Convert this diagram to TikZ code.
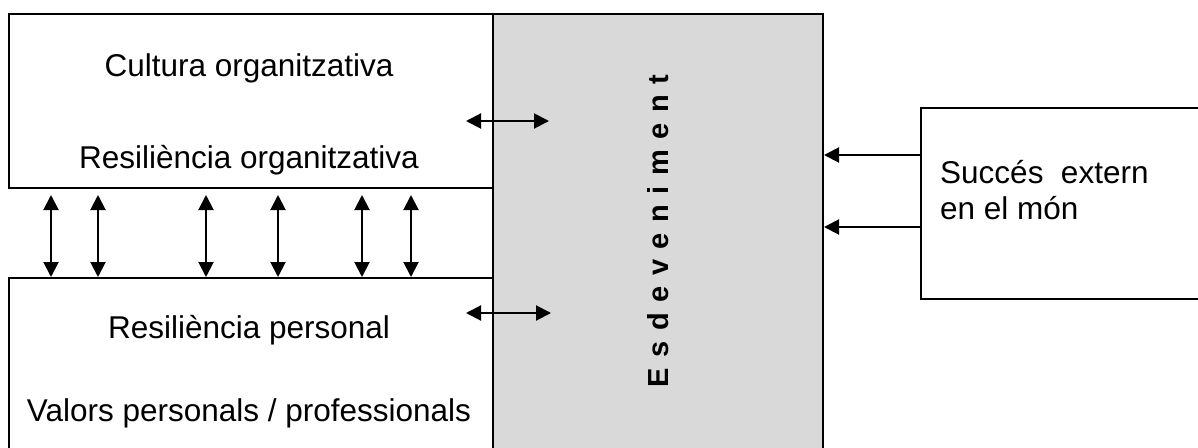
\documentclass[tikz,border=0pt]{standalone}
\usepackage{fontspec}
\setmainfont{Liberation Sans}
\usetikzlibrary{arrows.meta,calc}
\definecolor{evgrey}{HTML}{D9D9D9}
\newcommand{\lsp}{\hspace{10.5pt}}
\begin{document}
\begin{tikzpicture}[x=1pt,y=-1pt,
  box/.style={draw=black,line width=2pt,inner sep=0pt},
  lbl/.style={font=\fontsize{31.5}{36}\selectfont,inner sep=0pt,anchor=base},
  tip/.tip={Triangle[width=15pt,length=15pt]},
  dbl/.style={line width=2pt,tip-tip},
  sgl/.style={line width=2pt,-tip}]
\clip (0,0) rectangle (1198,447);
\fill[white] (0,0) rectangle (1198,447);
% boxes
\node[box,fill=evgrey,minimum width=330pt,minimum height=460pt,anchor=north west] (ev) at (492,13) {};
\node[box,fill=white,minimum width=484pt,minimum height=174pt,anchor=north west] (org) at (8,13) {};
\node[box,fill=white,minimum width=484pt,minimum height=200pt,anchor=north west] (pers) at (8,277) {};
\node[box,fill=white,minimum width=300pt,minimum height=191pt,anchor=north west] (ext) at (920,107) {};
% labels
\node[lbl] (t1) at (249,76) {Cultura organitzativa};
\node[lbl] (t2) at (249,168) {Resiliència organitzativa};
\node[lbl] (t3) at (249,338) {Resiliència personal};
\node[lbl] (t4) at (249,421) {Valors personals / professionals};
\node[lbl,anchor=base west] (t5) at (940,183) {Succés\ \ extern};
\node[lbl,anchor=base west] (t6) at (940,219) {en el món};
\node[inner sep=0pt,anchor=base,rotate=90,font=\fontsize{29}{33}\selectfont\bfseries] (t7) at (668,231)
  {E\lsp s\lsp d\lsp e\lsp v\lsp e\lsp n\lsp i\lsp m\lsp e\lsp n\lsp t};
% links between the organisation and the person
\foreach \dx in {43,90,198,270,354,403}
  \draw[dbl,shorten <=6pt] ([xshift=\dx pt]org.south west) -- ([xshift=\dx pt]pers.north west);
% links into the event
\coordinate (a1) at (466,121);
\coordinate (b1) at (549,121);
\coordinate (a2) at (466,313);
\coordinate (b2) at (551,313);
\draw[dbl] (a1) -- (b1);
\draw[dbl] (a2) -- (b2);
% external success acting on the event
\draw[sgl] (ext.west |- 0,155) -- (ev.east |- 0,155);
\draw[sgl] (ext.west |- 0,227) -- (ev.east |- 0,227);
\end{tikzpicture}
\end{document}
